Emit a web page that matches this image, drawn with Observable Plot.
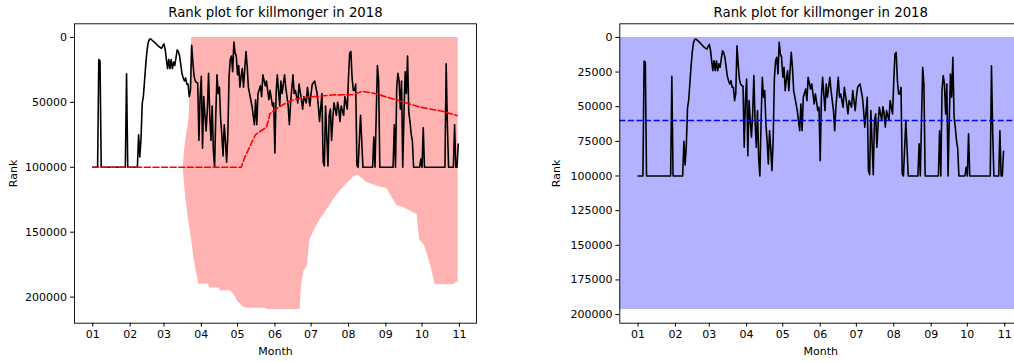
<!DOCTYPE html>
<html>
<head>
<meta charset="utf-8">
<script src="https://cdn.jsdelivr.net/npm/d3@7"></script>
<script src="https://cdn.jsdelivr.net/npm/@observablehq/plot@0.6"></script>
<style>
  html, body { margin: 0; padding: 0; background: #fff; }
  #wrap { width: 1014px; height: 362px; overflow: hidden; position: relative; white-space: nowrap; font-size: 0; }
  #wrap > * { display: inline-block; vertical-align: top; }
</style>
</head>
<body>
<div id="wrap"></div>
<script>
// ---- data (day offset from 2018-01-01) ----
const title = "Rank plot for killmonger in 2018";
const xLabel = "Month";
const yLabel = "Rank";

const lineDay = [0,4,5,6,7,27,28,29,37,38,39,40,41,42,44,45,46,47,48,49,51,53,55,57,59,60,61,62,63,64,65,66,67,68,70,71,72,74,75,76,77,78,79,80,81,82,83,84,85,86,87,88,89,90,91,92,93,94,95,96,97,98,99,100,101,102,103,104,105,106,107,108,109,110,111,112,113,114,115,116,117,118,119,120,121,122,123,124,125,127,128,129,131,132,134,135,136,137,139,140,141,143,144,146,147,149,150,151,152,153,155,156,157,159,160,162,163,164,166,167,168,170,171,173,174,175,177,178,180,181,182,184,186,187,188,190,191,192,193,195,196,197,198,199,200,202,203,204,205,206,208,209,211,212,213,214,215,216,217,218,219,220,222,224,232,233,234,235,236,237,238,249,250,251,252,253,254,255,256,257,258,259,260,261,262,263,264,265,266,271,272,273,274,275,292,293,294,295,299,300,301,302,303];
const lineRank = [100000,100000,17000,18000,100000,100000,28000,100000,100000,75000,92000,78000,51000,45000,20000,10000,3600,1500,1200,2000,3600,5500,7200,8400,5000,9000,16800,24000,16800,24000,17000,24000,19000,21600,9600,11000,14400,28000,31200,33600,31200,36000,36000,45600,40800,6000,19200,30000,33600,34800,35000,79300,45600,30000,85300,45600,60000,72000,55300,27600,60000,79300,52800,87400,100000,60000,28800,43200,38400,62500,75000,91300,67300,80000,96100,74400,30000,16800,14400,26400,3600,12000,14400,28800,21600,38400,30000,24000,38400,10800,21600,38400,48000,52800,67300,48000,67300,43200,37200,45600,28800,37200,33600,48000,40800,52800,50400,89000,43200,28800,52800,33600,43200,28800,38400,52800,67300,50400,28800,43200,40800,50400,36000,48000,55200,45600,50400,38400,52800,43200,36000,33600,43200,52800,64800,43200,96000,99000,52800,99000,60000,55200,79300,62500,50400,60000,50000,55200,64800,52800,60000,45600,55200,31200,12000,10800,31200,40800,40800,36000,98500,100000,60000,100000,100000,76800,100000,60000,21600,33600,100000,100000,67300,100000,38400,27600,33600,55200,33600,100000,60000,26400,43200,14400,57600,64800,74400,80000,100000,100000,93700,100000,69600,100000,100000,20400,67300,100000,100000,67300,100000,100000,82200];

// rolling band (left panel)
const bandDay  = [75,76,77,78,79,80,81,82,84,86,88,96,97,105,106,114,117,120,124,127,143,145,172,173,175,178,180,183,188,195,201,207,216,220,227,236,244,252,257,269,271,275,280,284,299,303];
const bandLow  = [100000,88000,80000,74000,68000,60000,30000,0,0,0,0,0,0,0,0,0,0,0,0,0,0,0,0,0,0,0,0,0,0,0,0,0,0,0,0,0,0,0,0,0,0,0,0,0,0,0];
const bandHigh = [100000,113000,122000,130000,138000,144000,150000,156000,171000,181000,190000,190000,193000,193000,195000,195000,198000,203000,207000,208500,208500,209600,209600,192000,180000,176000,156000,150000,141000,131800,123000,116400,107600,105900,111500,114600,116600,129500,130800,136400,156000,160000,175000,190400,190400,188000];

// rolling mean (left panel, dashed red)
const meanDay  = [0,123,126,135,144,147,154,164,172,186,199,216,223,233,249,272,291,302];
const meanRank = [100000,100000,92300,74800,69200,58700,53800,48700,46600,45400,44300,44100,41500,43000,47400,53800,57100,60200];

// overall statistics (right panel)
const overallMean = 60000;
const overallLow = 0;
const overallHigh = 196400;

const leftYTicks  = [0, 50000, 100000, 150000, 200000];
const rightYTicks = [0, 25000, 50000, 75000, 100000, 125000, 150000, 175000, 200000];

// ---- helpers ----
const t0 = Date.UTC(2018, 0, 1);
const toDate = d => new Date(t0 + d * 864e5);
const lineData = lineDay.map((d, i) => ({date: toDate(d), rank: lineRank[i]}));
const bandData = bandDay.map((d, i) => ({date: toDate(d), lo: bandLow[i], hi: bandHigh[i]}));
const meanData = meanDay.map((d, i) => ({date: toDate(d), rank: meanRank[i]}));

const dMin = d3.min(lineDay), dMax = d3.max(lineDay);
const pad = (dMax - dMin) * 0.05;
const xDomain = [toDate(dMin - pad), toDate(dMax + pad)];
const monthTicks = d3.utcMonth.range(new Date(Date.UTC(2018,0,1)), new Date(Date.UTC(2018,10,2)));

function yDom(lo, hi) { const m = (hi - lo) * 0.05; return [lo - m, hi + m]; }

const common = {
  height: 362,
  marginTop: 23.3,
  marginBottom: 39.3,
  style: {fontFamily: "'DejaVu Sans', sans-serif", fontSize: "11px", color: "black", background: "white"},
};

function xOpts() {
  return {type: "utc", domain: xDomain, ticks: monthTicks, tickFormat: d => d3.utcFormat("%m")(d),
          tickSize: 3.9, tickPadding: 3.5, label: xLabel, labelAnchor: "center", labelOffset: 32, labelArrow: "none"};
}

const left = Plot.plot({
  ...common,
  width: 507,
  marginLeft: 74,
  marginRight: 31,
  x: xOpts(),
  y: {domain: yDom(0, d3.max(bandHigh)), reverse: true, ticks: leftYTicks, tickFormat: d3.format("d"),
      tickSize: 3.9, tickPadding: 3.5, label: yLabel, labelAnchor: "center", labelOffset: 65, labelArrow: "none"},
  marks: [
    Plot.areaY(bandData, {x: "date", y1: "lo", y2: "hi", fill: "#ffb2b2"}),
    Plot.line(lineData, {x: "date", y: "rank", stroke: "black", strokeWidth: 1.6}),
    Plot.line(meanData, {x: "date", y: "rank", stroke: "#ff0000", strokeWidth: 1.6, strokeDasharray: "6,2.6"}),
    Plot.frame({stroke: "black", strokeWidth: 0.9}),
    Plot.text([title], {frameAnchor: "top", dy: -11.5, fontSize: 13.3, lineAnchor: "middle"})
  ]
});

const right = Plot.plot({
  ...common,
  width: 545,
  marginLeft: 112.3,
  marginRight: 30.7,
  x: xOpts(),
  y: {domain: yDom(overallLow, overallHigh), reverse: true, ticks: rightYTicks, tickFormat: d3.format("d"),
      tickSize: 3.9, tickPadding: 3.5, label: yLabel, labelAnchor: "center", labelOffset: 68, labelArrow: "none"},
  marks: [
    Plot.rect([{lo: overallLow, hi: overallHigh}], {y1: "lo", y2: "hi", fill: "#b2b2ff"}),
    Plot.line(lineData, {x: "date", y: "rank", stroke: "black", strokeWidth: 1.6}),
    Plot.ruleY([overallMean], {stroke: "#0000ff", strokeWidth: 1.6, strokeDasharray: "6,2.6"}),
    Plot.frame({stroke: "black", strokeWidth: 0.9}),
    Plot.text([title], {frameAnchor: "top", dy: -11.5, fontSize: 13.3, lineAnchor: "middle"})
  ]
});

document.getElementById("wrap").append(left, right);
</script>
</body>
</html>
